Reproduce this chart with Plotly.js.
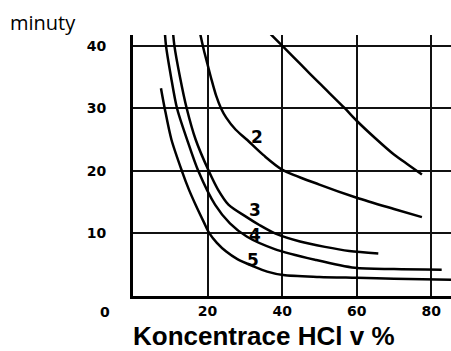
<!DOCTYPE html>
<html>
<head>
<meta charset="utf-8">
<script src="https://cdn.plot.ly/plotly-3.0.1.min.js"></script>
<style>html,body{margin:0;padding:0;background:#fff;}#chart{width:451px;height:351px;}</style>
</head>
<body>
<div id="chart"></div>
<script>
// Curve 1 (unlabelled, top right)
const curve1X = [36.3, 40, 45, 50, 56.8, 60, 65, 70, 74, 77.5];
const curve1Y = [42.2, 40, 37, 34, 30, 28, 25.2, 22.6, 20.9, 19.4];
// Curve 2
const curve2X = [17.8, 19, 20, 21, 22.3, 23.6, 25, 27.5, 30.5, 35, 40, 50, 60, 70, 77.5];
const curve2Y = [42.5, 39.3, 37, 34.7, 32, 30, 28.5, 26.6, 25, 22.5, 20.2, 17.8, 15.7, 13.9, 12.6];
// Curve 3
const curve3X = [10.6, 11.1, 12.6, 14.4, 16.8, 20.3, 22.8, 25.6, 30.5, 34, 38.1, 44.8, 51.5, 58, 65.8];
const curve3Y = [43, 40, 35, 30, 25, 20, 17, 14.6, 12.6, 11.3, 10.0, 8.7, 7.85, 7.2, 6.8];
// Curve 4
const curve4X = [8.5, 8.85, 10.2, 11.8, 14.5, 17.5, 22, 26, 30.5, 38, 48.8, 59.5, 70, 82.8];
const curve4Y = [42.5, 40, 35, 30, 25, 20, 14.6, 11.6, 9.5, 7.5, 5.8, 4.5, 4.3, 4.2];
// Curve 5
const curve5X = [7.5, 8.5, 10.3, 13.1, 15, 17, 19, 20.5, 22.5, 25, 28, 32.3, 36, 40.3, 50, 60, 70, 85.3];
const curve5Y = [33.2, 30, 25, 20, 17, 14.3, 11.8, 10, 8.5, 7.1, 5.9, 4.75, 3.9, 3.35, 3.05, 2.9, 2.75, 2.6];

const curveLabels = ['2', '3', '4', '5'];
const curveLabelX = [33.2, 32.7, 32.7, 32.2];
const curveLabelY = [25.4, 13.8, 9.8, 5.8];

const xTickVals = [20, 40, 60, 80];
const yTickVals = [10, 20, 30, 40];

const lineStyle = {color: '#000', width: 2.5, shape: 'spline', smoothing: 0.8};
const series = [[curve1X, curve1Y], [curve2X, curve2Y], [curve3X, curve3Y], [curve4X, curve4Y], [curve5X, curve5Y]];
const traces = series.map(function (s) {
  return {x: s[0], y: s[1], mode: 'lines', line: lineStyle, hoverinfo: 'skip', showlegend: false};
});

const tickFont = {family: 'DejaVu Sans', size: 14, color: '#000', weight: 'bold'};

const annotations = curveLabels.map(function (t, i) {
  return {x: curveLabelX[i], y: curveLabelY[i], xref: 'x', yref: 'y', xanchor: 'center', yanchor: 'middle',
    text: '<b>' + t + '</b>', showarrow: false,
    font: {family: 'DejaVu Sans', size: 17, color: '#000'}};
});
annotations.push({x: -0.088, y: -0.06, xref: 'paper', yref: 'paper', xanchor: 'center', yanchor: 'middle',
  text: '<b>0</b>', showarrow: false,
  font: {family: 'DejaVu Sans', size: 14, color: '#000'}});
annotations.push({x: 0.412, y: -0.153, xref: 'paper', yref: 'paper', xanchor: 'center', yanchor: 'middle',
  text: '<b>Koncentrace HCl v %</b>', showarrow: false,
  font: {family: 'Liberation Sans', size: 26, color: '#000'}});

const layout = {
  width: 451, height: 351,
  margin: {l: 133, r: 0, t: 35, b: 55, pad: 0},
  paper_bgcolor: '#fff', plot_bgcolor: '#fff',
  title: {text: 'minuty', font: {family: 'Open Sans', size: 20, color: '#000'},
    xref: 'container', yref: 'container', x: 10 / 451, xanchor: 'left', y: 1 - 23 / 351, yanchor: 'middle'},
  xaxis: {range: [0, 85.3], tickvals: xTickVals, ticktext: xTickVals.map(String), showgrid: true, gridcolor: '#111', gridwidth: 2,
    showline: true, linecolor: '#000', linewidth: 3, zeroline: false, ticks: '', tickfont: tickFont, ticklabelstandoff: 0, fixedrange: true},
  yaxis: {range: [0, 41.7], tickvals: yTickVals, ticktext: yTickVals.map(String), showgrid: true, gridcolor: '#111', gridwidth: 2,
    showline: true, linecolor: '#000', linewidth: 3, zeroline: false, ticks: '', tickfont: tickFont, ticklabelstandoff: 21, fixedrange: true},
  annotations: annotations,
  showlegend: false
};

Plotly.newPlot('chart', traces, layout, {staticPlot: true, displayModeBar: false});
</script>
</body>
</html>
